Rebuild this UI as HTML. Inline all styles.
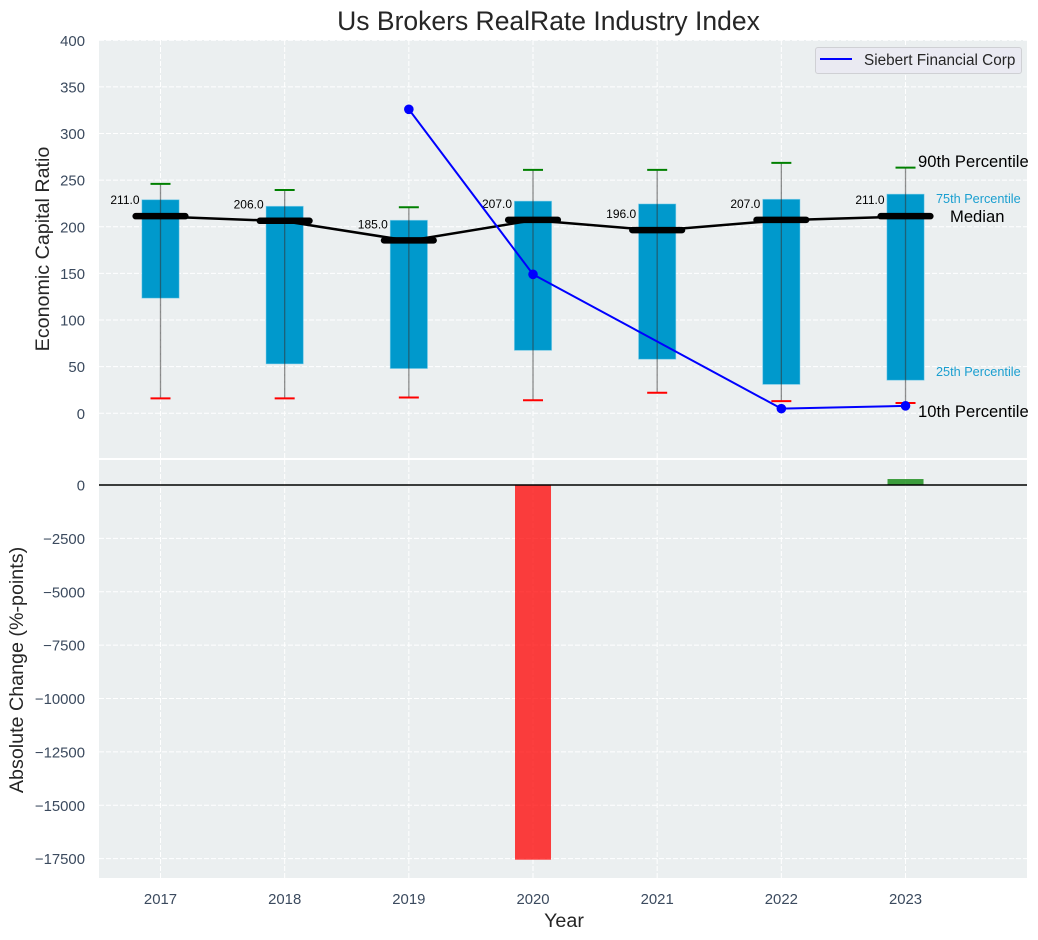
<!DOCTYPE html>
<html>
<head>
<meta charset="utf-8">
<title>Us Brokers RealRate Industry Index</title>
<style>
html,body{margin:0;padding:0;background:#fff;}
svg{display:block;font-family:"Liberation Sans",sans-serif;}
.tick{font-size:14.9px;fill:#3b4a5e;}
.axis-label{font-size:19.7px;fill:#262626;}
</style>
</head>
<body>
<svg id="chart" width="1038" height="940" viewBox="0 0 1038 940" xmlns="http://www.w3.org/2000/svg">
  <rect x="99" y="40" width="928" height="418" fill="#ebeff0"/>
  <rect x="99" y="460" width="928" height="418" fill="#ebeff0"/>
  <g id="grid"></g>
  <g id="bars"></g>
  <g id="whiskers"></g>
  <g id="median"></g>
  <g id="siebert"></g>
  <g id="change"></g>
  <line x1="99" x2="1027" y1="485" y2="485" stroke="#000" stroke-width="1.5"/>
  <g id="ticks"></g>
  <text x="548.5" y="30" text-anchor="middle" font-size="26.5" fill="#262626">Us Brokers RealRate Industry Index</text>
  <text class="axis-label" transform="translate(49 249) rotate(-90)" text-anchor="middle">Economic Capital Ratio</text>
  <text class="axis-label" transform="translate(23 670) rotate(-90)" text-anchor="middle">Absolute Change (%-points)</text>
  <text class="axis-label" x="564" y="927" text-anchor="middle">Year</text>
  <text x="918" y="167" font-size="16.6" fill="#000">90th Percentile</text>
  <text x="936" y="203" font-size="12.7" fill="#1a9fd0">75th Percentile</text>
  <text x="950" y="222" font-size="16.6" fill="#000">Median</text>
  <text x="936" y="376" font-size="12.7" fill="#1a9fd0">25th Percentile</text>
  <text x="918" y="417" font-size="16.6" fill="#000">10th Percentile</text>
  <g>
    <rect x="815.5" y="47.5" width="206" height="26" rx="2.5" fill="#eaeaf2" stroke="#cfd0d4" stroke-width="1"/>
    <line x1="820" x2="852" y1="59" y2="59" stroke="#0000ff" stroke-width="2"/>
    <text x="864" y="65" font-size="15.3" fill="#262626">Siebert Financial Corp</text>
  </g>
</svg>
<script>
const years = [2017, 2018, 2019, 2020, 2021, 2022, 2023];
const p10 = [16, 16, 17, 14, 22, 13, 11];
const p25 = [123.5, 53, 48, 67.5, 58, 31, 35.5];
const medians = [211, 206, 185, 207, 196, 207, 211];
const p75 = [229, 222, 207, 227.5, 224.5, 229.5, 235];
const p90 = [246, 239.5, 221, 261, 261, 268.5, 263.5];
const siebert = [null, null, 326, 149, null, 5, 8];
const absoluteChange = [null, null, null, -17550, null, null, 280];
const topTicks = [0, 50, 100, 150, 200, 250, 300, 350, 400];
const bottomTicks = [0, -2500, -5000, -7500, -10000, -12500, -15000, -17500];

const NS = 'http://www.w3.org/2000/svg';
const xPos = function (year) { return 160.5 + (year - 2017) * 124.17; };
const yTop = function (v) { return 413.3 - v * 0.9325; };
const yBottom = function (v) { return 485 - v * 0.02135; };
const yearSpan = function (w) { return w * 124.17; };

function make(parent, tag, props, text) {
  const el = document.createElementNS(NS, tag);
  for (const k in props) { el.setAttribute(k, props[k]); }
  if (text !== undefined) { el.textContent = text; }
  document.getElementById(parent).appendChild(el);
  return el;
}
function label(v) { return String(v).replace('-', '\u2212'); }

topTicks.forEach(function (t) {
  const g = make('grid', 'line', {x1: 99, x2: 1027, y1: yTop(t), y2: yTop(t), stroke: '#fff', 'stroke-width': 1, 'stroke-dasharray': '5 2'});
  
  
  const l = make('ticks', 'text', {x: 85, y: yTop(t) + 5.5, 'text-anchor': 'end', class: 'tick'}, label(t));
  
  
});
bottomTicks.forEach(function (t) {
  const g = make('grid', 'line', {x1: 99, x2: 1027, y1: yBottom(t), y2: yBottom(t), stroke: '#fff', 'stroke-width': 1, 'stroke-dasharray': '5 2'});
  
  
  const l = make('ticks', 'text', {x: 85, y: yBottom(t) + 5.5, 'text-anchor': 'end', class: 'tick'}, label(t));
  
  
});

years.forEach(function (year, i) {
  const x = xPos(year);
  const g1 = make('grid', 'line', {x1: x, x2: x, y1: 40, y2: 458, stroke: '#fff', 'stroke-width': 1, 'stroke-dasharray': '5 2'});
  
  
  const g2 = make('grid', 'line', {x1: x, x2: x, y1: 460, y2: 878, stroke: '#fff', 'stroke-width': 1, 'stroke-dasharray': '5 2'});
  
  
  const tl = make('ticks', 'text', {x: x, y: 904, 'text-anchor': 'middle', class: 'tick'}, String(year));
  
  

  const bar = make('bars', 'rect', {x: x - yearSpan(0.15), y: yTop(p75[i]), width: yearSpan(0.3), height: yTop(p25[i]) - yTop(p75[i]), fill: '#0099cc', stroke: 'rgba(120,205,235,.6)', 'stroke-width': 0.8});
  
  

  const w = make('whiskers', 'line', {x1: x, x2: x, y1: yTop(p90[i]), y2: yTop(p10[i]), stroke: '#333', 'stroke-opacity': 0.55, 'stroke-width': 1.3});
  
  
  const capHi = make('whiskers', 'line', {x1: x - 10, x2: x + 10, y1: yTop(p90[i]), y2: yTop(p90[i]), stroke: '#008000', 'stroke-width': 2});
  
  
  const capLo = make('whiskers', 'line', {x1: x - 10, x2: x + 10, y1: yTop(p10[i]), y2: yTop(p10[i]), stroke: '#ff0000', 'stroke-width': 2});
  
  

  const seg = make('median', 'line', {x1: x - yearSpan(0.2), x2: x + yearSpan(0.2), y1: yTop(medians[i]) - 0.4, y2: yTop(medians[i]) - 0.4, stroke: '#000', 'stroke-width': 6.5, 'stroke-linecap': 'round'});
  
  
  const ml = make('median', 'text', {x: x - 21, y: yTop(medians[i]) - 12.5, 'text-anchor': 'end', 'font-size': 12, fill: '#000'}, medians[i].toFixed(1));
  
  

  if (absoluteChange[i] !== null) {
    const v = absoluteChange[i];
    const cb = make('change', 'rect', {x: x - yearSpan(0.145), y: Math.min(yBottom(v), yBottom(0)), width: yearSpan(0.29), height: Math.abs(yBottom(v) - yBottom(0)), fill: v < 0 ? '#ff0000' : '#008000', 'fill-opacity': 0.75});
    
    
  }
});

const medianPoints = years.map(function (year, i) { return xPos(year) + ',' + yTop(medians[i]); }).join(' ');
const medianLine = make('median', 'polyline', {points: medianPoints, fill: 'none', stroke: '#000', 'stroke-width': 2.5});



const siebertPoints = [];
years.forEach(function (year, i) {
  if (siebert[i] !== null) { siebertPoints.push(xPos(year) + ',' + yTop(siebert[i])); }
});
const siebertLine = make('siebert', 'polyline', {points: siebertPoints.join(' '), fill: 'none', stroke: '#0000ff', 'stroke-width': 2});


years.forEach(function (year, i) {
  if (siebert[i] === null) { return; }
  const dot = make('siebert', 'circle', {cx: xPos(year), cy: yTop(siebert[i]), r: 4.8, fill: '#0000ff'});
  
  
});
</script>
</body>
</html>
